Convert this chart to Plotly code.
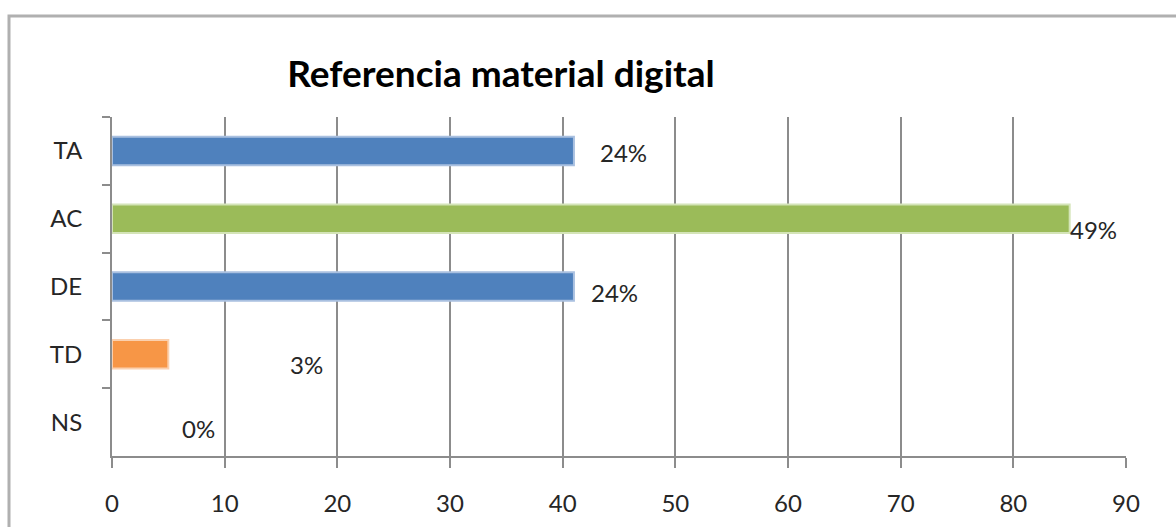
import plotly.graph_objects as go

# ---- data ----
categories = ["TA", "AC", "DE", "TD", "NS"]
values = [41, 85, 41, 5, 0]
pct_labels = ["24%", "49%", "24%", "3%", "0%"]
bar_colors = ["#4f81bd", "#9bbb59", "#4f81bd", "#f79646", "#4f81bd"]
edge_colors = ["#a9c0e0", "#d4e4b8", "#a9c0e0", "#fbd0ae", "rgba(0,0,0,0)"]
x_ticks = [0, 10, 20, 30, 40, 50, 60, 70, 80, 90]

# label offsets in pixels (style, not data)
label_dx = [50, 24, 41, 138, 86]
label_dy = [-2, -11, -6, -10, -6]

W, H = 1176, 527
L, R, T, B = 112, 1126, 117, 456

FONT = "Lato"
TXT = "#262626"

fig = go.Figure()
fig.add_trace(go.Bar(
    y=categories, x=values, orientation="h",
    marker=dict(color=bar_colors, line=dict(color=edge_colors, width=2)),
    width=0.42, hoverinfo="skip",
))

annotations = []
for c, v, t, dx, dy in zip(categories, values, pct_labels, label_dx, label_dy):
    annotations.append(dict(
        x=v, y=c, xref="x", yref="y", text=t, showarrow=False,
        xshift=dx, yshift=dy,
        font=dict(family=FONT, size=24, color=TXT),
    ))

pw, ph = R - L, B - T
def px_x(p):
    return (p - L) / pw
def px_y(p):
    return (B - p) / ph

fig.update_layout(
    template="none",
    width=W, height=H,
    margin=dict(l=L, r=W - R, t=T, b=H - B, pad=0, autoexpand=False),
    paper_bgcolor="white", plot_bgcolor="white",
    showlegend=False,
    title=dict(text="<b>Referencia material digital</b>",
               x=px_x(501), xref="paper", xanchor="center",
               y=1 - 74 / H, yref="container", yanchor="middle",
               font=dict(family=FONT, size=37, color="#000000")),
    annotations=annotations,
    shapes=[dict(type="rect", xref="paper", yref="paper",
                 x0=px_x(9), x1=px_x(W + 20), y0=px_y(H + 20), y1=px_y(16),
                 line=dict(color="#b0b0b0", width=3), layer="below")],
)
fig.update_xaxes(
    range=[0, 90], tickvals=x_ticks, ticktext=[str(v) for v in x_ticks],
    showgrid=True, gridcolor="#8c8c8c", gridwidth=2,
    showline=True, linecolor="#8c8c8c", linewidth=2,
    ticks="outside", ticklen=10, tickwidth=2, tickcolor="#8c8c8c",
    ticklabelstandoff=15, automargin=False,
    tickfont=dict(family=FONT, size=24, color=TXT),
    zeroline=False, fixedrange=True,
)
fig.update_yaxes(
    categoryorder="array", categoryarray=categories, autorange="reversed",
    showgrid=False, showline=True, linecolor="#8c8c8c", linewidth=2,
    ticks="outside", tickson="boundaries", ticklen=8, tickwidth=2, tickcolor="#8c8c8c",
    ticklabelstandoff=23, automargin=False,
    tickfont=dict(family=FONT, size=24, color=TXT),
    zeroline=False, fixedrange=True,
)

fig.write_html("out.html", config={"displayModeBar": False},
               post_script="document.body.style.margin='0';")
